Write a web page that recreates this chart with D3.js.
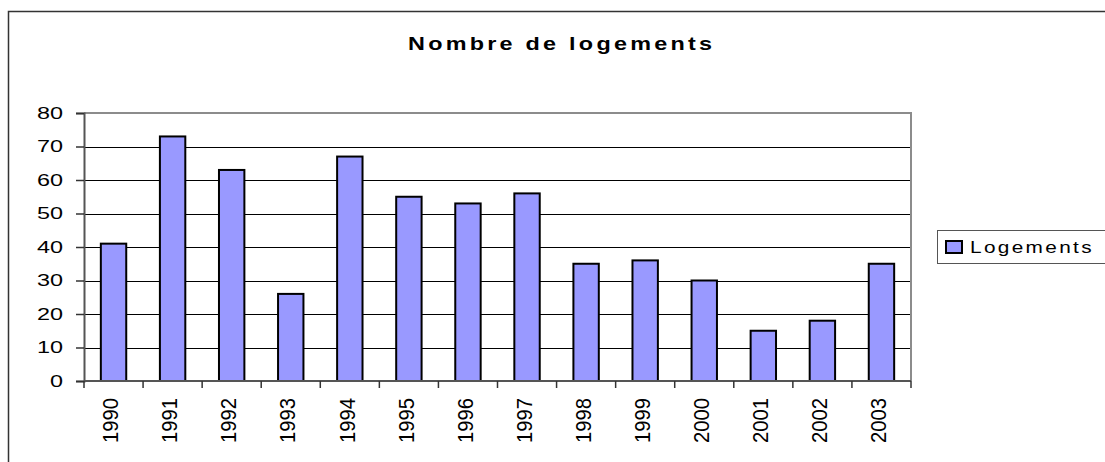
<!DOCTYPE html>
<html>
<head>
<meta charset="utf-8">
<script src="https://cdn.jsdelivr.net/npm/d3@7"></script>
<style>
  body { margin: 0; background: #fff; }
  text { font-family: Arial, "Liberation Sans", sans-serif; fill: #000; }
</style>
</head>
<body>
<div id="chart"></div>
<script>
const years = ["1990", "1991", "1992", "1993", "1994", "1995", "1996", "1997", "1998", "1999", "2000", "2001", "2002", "2003"];
const logements = [41, 73, 63, 26, 67, 55, 53, 56, 35, 36, 30, 15, 18, 35];
const yTicks = [0, 10, 20, 30, 40, 50, 60, 70, 80];
const seriesName = "Logements";
const chartTitle = "Nombre de logements";

const W = 1105, H = 462;
const plot = { left: 84, right: 911, top: 113, bottom: 381 };

const svg = d3.select("#chart").append("svg")
    .attr("width", W)
    .attr("height", H);

// outer chart frame (runs off the right and bottom edges)
svg.append("rect")
    .attr("x", 8.5).attr("y", 11.5)
    .attr("width", 1110).attr("height", 470)
    .attr("fill", "#fff")
    .attr("stroke", "#333")
    .attr("stroke-width", 1.5);

const x = d3.scaleBand()
    .domain(years)
    .range([plot.left, plot.right])
    .padding(0);

const y = d3.scaleLinear()
    .domain([0, 80])
    .range([plot.bottom, plot.top]);

// gridlines
svg.append("g")
    .selectAll("line")
    .data(yTicks.filter(d => d > 0 && d < 80))
    .enter().append("line")
    .attr("x1", plot.left).attr("x2", plot.right)
    .attr("y1", d => Math.round(y(d)) + 0.5)
    .attr("y2", d => Math.round(y(d)) + 0.5)
    .attr("stroke", "#000")
    .attr("stroke-width", 1);

// plot area border (top / right)
svg.append("path")
    .attr("d", `M${plot.left},${plot.top} H${plot.right} V${plot.bottom}`)
    .attr("fill", "none")
    .attr("stroke", "#8c8c8c")
    .attr("stroke-width", 2);

// bars
const barW = x.bandwidth() * 0.43;
svg.append("g")
    .selectAll("rect")
    .data(years.map((yr, i) => ({ yr: yr, v: logements[i] })))
    .enter().append("rect")
    .attr("x", d => x(d.yr) + (x.bandwidth() - barW) / 2)
    .attr("y", d => y(d.v))
    .attr("width", barW)
    .attr("height", d => y(0) - y(d.v))
    .attr("fill", "#9999ff")
    .attr("stroke", "#000")
    .attr("stroke-width", 2);

// y axis
const yAxis = d3.axisLeft(y).tickValues(yTicks).tickSize(8).tickPadding(13).tickFormat(d3.format("d"));
const gy = svg.append("g")
    .attr("transform", `translate(${plot.left},0)`)
    .call(yAxis);
gy.select(".domain").attr("stroke", "#555").attr("stroke-width", 2);
gy.selectAll(".tick line").attr("stroke", "#333").attr("stroke-width", 1.5);
gy.selectAll(".tick text")
    .attr("font-size", 16)
    .attr("font-family", "Arial, 'Liberation Sans', sans-serif")
    .attr("fill", "#000")
    .attr("textLength", d => String(d).length * 13)
    .attr("lengthAdjust", "spacingAndGlyphs");

// x axis line and boundary ticks
const gx = svg.append("g");
gx.append("line")
    .attr("x1", plot.left).attr("x2", plot.right)
    .attr("y1", plot.bottom).attr("y2", plot.bottom)
    .attr("stroke", "#555").attr("stroke-width", 2);
gx.selectAll(".xt")
    .data(years.map(d => x(d)).concat([x.range()[1]]))
    .enter().append("line")
    .attr("class", "xt")
    .attr("x1", d => d).attr("x2", d => d)
    .attr("y1", plot.bottom).attr("y2", plot.bottom + 7)
    .attr("stroke", "#333").attr("stroke-width", 1.5);

gx.selectAll(".xl")
    .data(years)
    .enter().append("text")
    .attr("class", "xl")
    .attr("transform", d => `translate(${x(d) + x.bandwidth() / 2 - 3},398) rotate(-90)`)
    .attr("dy", "0.35em")
    .attr("text-anchor", "end")
    .attr("font-size", 22)
    .attr("textLength", 45)
    .attr("lengthAdjust", "spacingAndGlyphs")
    .text(d => d);

// title (glyphs widened and spaced like the old renderer)
svg.append("text")
    .attr("transform", "translate(408,50) scale(1.3,1)")
    .attr("font-size", 18)
    .attr("font-weight", "bold")
    .style("letter-spacing", "2.5px")
    .text(chartTitle);

// legend
const lg = svg.append("g");
lg.append("rect")
    .attr("x", 937.5).attr("y", 230.5)
    .attr("width", 180).attr("height", 33)
    .attr("fill", "#fff")
    .attr("stroke", "#555")
    .attr("stroke-width", 1);
lg.append("rect")
    .attr("x", 946).attr("y", 241)
    .attr("width", 16).attr("height", 12)
    .attr("fill", "#9999ff")
    .attr("stroke", "#000")
    .attr("stroke-width", 2);
lg.append("text")
    .attr("transform", "translate(970,253) scale(1.3,1)")
    .attr("font-size", 16)
    .style("letter-spacing", "1.8px")
    .text(seriesName);
</script>
</body>
</html>
